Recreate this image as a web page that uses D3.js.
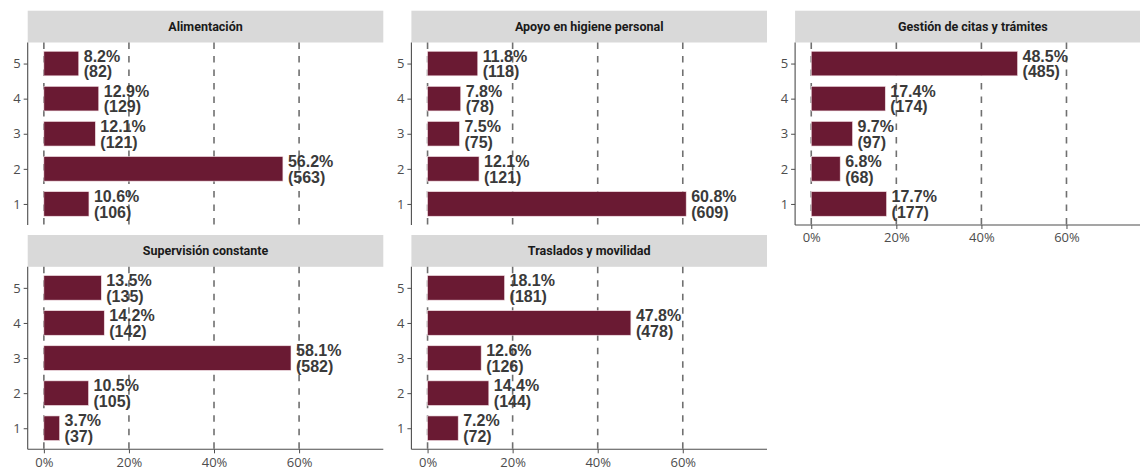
<!DOCTYPE html>
<html>
<head>
<meta charset="utf-8">
<script src="https://cdn.jsdelivr.net/npm/d3@7"></script>
<style>
  html, body { margin: 0; padding: 0; background: #fff; }
  svg { display: block; }
</style>
</head>
<body>
<svg id="chart" width="1140" height="468"></svg>
<script>
// ---- Data ----
const panels = ["Alimentación", "Apoyo en higiene personal", "Gestión de citas y trámites", "Supervisión constante", "Traslados y movilidad"];
const categories = [1, 2, 3, 4, 5];
const pctAlimentacion = [10.6, 56.2, 12.1, 12.9, 8.2];
const nAlimentacion   = [106, 563, 121, 129, 82];
const pctHigiene = [60.8, 12.1, 7.5, 7.8, 11.8];
const nHigiene   = [609, 121, 75, 78, 118];
const pctCitas = [17.7, 6.8, 9.7, 17.4, 48.5];
const nCitas   = [177, 68, 97, 174, 485];
const pctSupervision = [3.7, 10.5, 58.1, 14.2, 13.5];
const nSupervision   = [37, 105, 582, 142, 135];
const pctTraslados = [7.2, 14.4, 12.6, 47.8, 18.1];
const nTraslados   = [72, 144, 126, 478, 181];
const xTicks = [0, 20, 40, 60];

const pctSeries = [pctAlimentacion, pctHigiene, pctCitas, pctSupervision, pctTraslados];
const nSeries = [nAlimentacion, nHigiene, nCitas, nSupervision, nTraslados];

// ---- Layout ----
const svg = d3.select("#chart");
const panelW = 355.6, colStep = 383.7, left0 = 27.7;
const rowTop = [10.7, 235], stripH = 31.8, plotH = 182.5;
const barColor = "#6a1a33";
const xMax = 60.8 * 1.25;
const xDomain = [-0.05 * xMax, xMax * 1.05];
const tickFont = "'Open Sans', 'Noto Sans', sans-serif";

panels.forEach((name, i) => {
  const col = i % 3, row = Math.floor(i / 3);
  const x0 = left0 + col * colStep;
  const stripTop = rowTop[row];
  const pTop = stripTop + stripH, pBot = pTop + plotH;
  const hasXAxis = (row === 1) || (col === 2);

  const x = d3.scaleLinear().domain(xDomain).range([x0, x0 + panelW]);
  const y = d3.scaleLinear().domain([0.4, 5.6]).range([pBot, pTop]);
  const g = svg.append("g");

  // strip
  g.append("rect").attr("x", x0).attr("y", stripTop).attr("width", panelW).attr("height", stripH)
    .attr("fill", "#d9d9d9");
  g.append("text").attr("x", x0 + panelW / 2).attr("y", stripTop + stripH / 2 + 4.5)
    .attr("text-anchor", "middle").attr("font-family", "Roboto, 'Noto Sans', sans-serif")
    .attr("font-weight", "bold").attr("font-size", "12.5px").attr("fill", "#1a1a1a").text(name);

  // gridlines
  g.selectAll("line.grid").data(xTicks).enter().append("line")
    .attr("x1", d => x(d)).attr("x2", d => x(d)).attr("y1", pTop).attr("y2", pBot)
    .attr("stroke", "#707070").attr("stroke-width", 1.6).attr("stroke-dasharray", "6.5,7");

  const data = categories.map((c, k) => ({ c, pct: pctSeries[i][k], n: nSeries[i][k] }));
  const bw = 0.7;
  g.selectAll("rect.bar").data(data).enter().append("rect")
    .attr("x", x(0)).attr("y", d => y(d.c + bw / 2))
    .attr("width", d => x(d.pct) - x(0)).attr("height", d => y(d.c - bw / 2) - y(d.c + bw / 2))
    .attr("fill", barColor).attr("stroke", "#f3dfe4").attr("stroke-width", 0.6);

  // labels
  const lab = g.selectAll("text.lab").data(data).enter().append("text")
    .style("font-family", "'Liberation Sans', Arimo, Arial, sans-serif").style("font-weight", "bold")
    .style("font-size", "16px").attr("fill", "#3a3a3a");
  lab.append("tspan").attr("x", d => x(d.pct) + 5).attr("y", d => y(d.c) - 2)
    .text(d => d.pct.toFixed(1) + "%");
  lab.append("tspan").attr("x", d => x(d.pct) + 5).attr("y", d => y(d.c) + 13.8)
    .text(d => "(" + d.n + ")");

  // y axis
  const ya = g.append("g").attr("transform", `translate(${x0},0)`)
    .call(d3.axisLeft(y).tickValues(categories).tickSize(4).tickPadding(3).tickFormat(d3.format("d")));
  ya.attr("font-size", null).attr("font-family", null);
  ya.select(".domain").attr("d", `M0,${pTop}V${pBot}`).attr("stroke", "#4d4d4d").attr("stroke-width", 1.1);
  ya.selectAll(".tick line").attr("stroke", "#4d4d4d");
  ya.selectAll(".tick text").style("font-family", tickFont)
    .style("font-size", "13px").attr("fill", "#4d4d4d");

  if (hasXAxis) {
    const xa = g.append("g").attr("transform", `translate(0,${pBot})`)
      .call(d3.axisBottom(x).tickValues(xTicks).tickSize(4).tickPadding(4).tickFormat(d => d + "%"));
    xa.attr("font-size", null).attr("font-family", null);
    xa.select(".domain").attr("d", `M${x0},0H${x0 + panelW}`).attr("stroke", "#4d4d4d").attr("stroke-width", 1.1);
    xa.selectAll(".tick line").attr("stroke", "#4d4d4d");
    xa.selectAll(".tick text").style("font-family", tickFont)
      .style("font-size", "13px").attr("fill", "#4d4d4d");
  }
});
</script>
</body>
</html>
